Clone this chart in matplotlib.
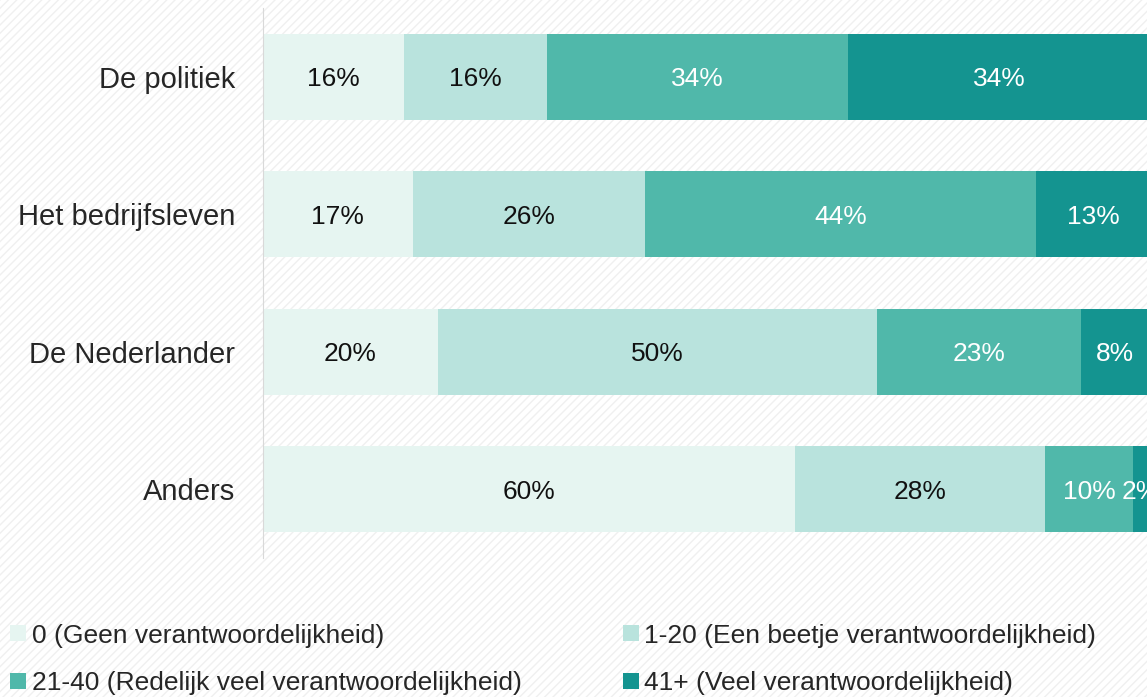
import matplotlib.pyplot as plt
from matplotlib.patches import Rectangle
from matplotlib.lines import Line2D

plt.rcParams["font.family"] = ["Liberation Sans", "DejaVu Sans"]

categories = ["De politiek", "Het bedrijfsleven", "De Nederlander", "Anders"]
series = [
    "0 (Geen verantwoordelijkheid)",
    "1-20 (Een beetje verantwoordelijkheid)",
    "21-40 (Redelijk veel verantwoordelijkheid)",
    "41+ (Veel verantwoordelijkheid)",
]
geen = [15.9, 16.9, 19.7, 60.0]
beetje = [16.1, 26.2, 49.6, 28.2]
redelijk = [34.0, 44.1, 22.9, 9.9]
veel = [34.0, 12.8, 7.8, 1.9]
colors = ["#E6F5F1", "#B9E3DD", "#50B8AA", "#149490"]
text_colors = ["#111111", "#111111", "white", "white"]

fig = plt.figure(figsize=(11.47, 6.97), dpi=100)

# faint diagonal hatch over the background
fig.patches.append(Rectangle((0, 0), 1, 1, transform=fig.transFigure,
                             facecolor="white", edgecolor="#f0f0f0",
                             hatch="////", linewidth=0, zorder=-10))

ax = fig.add_axes([263 / 1147, 1 - 558 / 697, 1 - 263 / 1147, 550 / 697])
ax.set_facecolor("none")

y = list(range(len(categories)))
left = [0.0] * len(categories)
for vals, col, tcol in zip([geen, beetje, redelijk, veel], colors, text_colors):
    bars = ax.barh(y, vals, left=left, height=0.625, color=col, linewidth=0)
    for b, v in zip(bars, vals):
        ax.text(b.get_x() + b.get_width() / 2, b.get_y() + b.get_height() / 2,
                f"{v:.0f}%", ha="center", va="center_baseline", color=tcol,
                fontsize=19, clip_on=True)
    left = [l + v for l, v in zip(left, vals)]

ax.set_xlim(0, 99.7)
ax.set_ylim(3.5, -0.5)
ax.set_yticks(y)
ax.set_yticklabels(categories, fontsize=21, color="#262626")
ax.tick_params(axis="y", length=0, pad=20)
ax.set_xticks([])
for s in ["top", "right", "bottom"]:
    ax.spines[s].set_visible(False)
ax.spines["left"].set_color("#d9d9d9")

handles = [Line2D([], [], marker="s", linestyle="none", markersize=12,
                  markerfacecolor=c, markeredgewidth=0) for c in colors]
# legend fills row by row in the reference
order = [0, 2, 1, 3]
fig.legend([handles[i] for i in order], [series[i] for i in order], ncol=2,
           loc="upper left", bbox_to_anchor=(0.0, 1 - 613 / 697),
           frameon=False, fontsize=19, borderaxespad=0,
           handlelength=0.6, handletextpad=0.2, columnspacing=3.85,
           labelspacing=0.9, labelcolor="#262626")

fig.savefig("out.png", dpi=100)
